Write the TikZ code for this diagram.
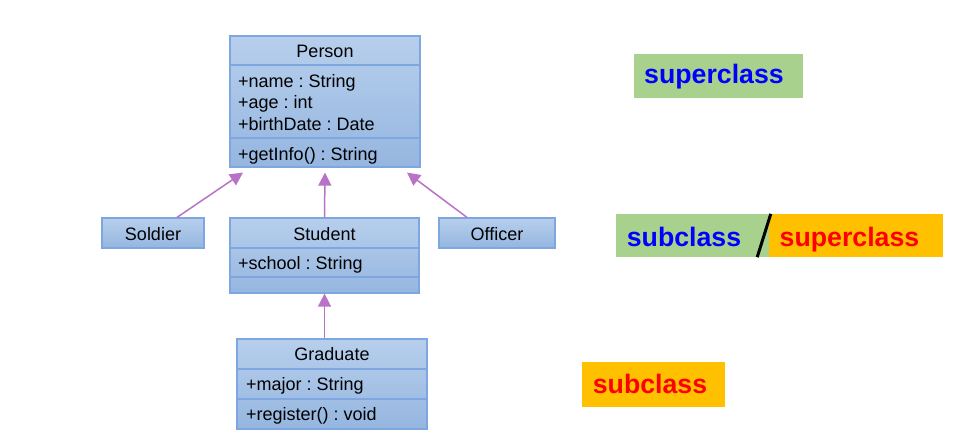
\documentclass[tikz,border=0pt]{standalone}
\usepackage{fontspec}
\setmainfont{Liberation Sans}
\usetikzlibrary{arrows.meta}
\frenchspacing
\definecolor{umlborder}{HTML}{7EA6E0}
\definecolor{umltop}{HTML}{B7CFEC}
\definecolor{umlbot}{HTML}{95B6E0}
\definecolor{arrowcol}{HTML}{B873C8}
\definecolor{tagGreen}{HTML}{A9D18E}
\definecolor{tagOrange}{HTML}{FFC000}
\tikzset{
  umlbox/.style={rectangle, draw=umlborder, line width=1.2pt, top color=umltop, bottom color=umlbot, inner sep=0pt},
  divline/.style={draw=umlborder, line width=1.2pt},
  umltext/.style={inner sep=0pt, font=\fontsize{18}{21}\selectfont\frenchspacing},
  inherit/.style={draw=arrowcol, line width=1.5pt, -{Triangle[length=13pt,width=13pt]}},
  tagtext/.style={inner sep=0pt, font=\fontsize{26.7}{30}\selectfont\bfseries},
  tagbox/.style={rectangle, inner sep=0pt, draw=none}
}
\begin{document}
\begin{tikzpicture}[x=1pt,y=-1pt]
\useasboundingbox[fill=white] (0,0) rectangle (962,441);

% Person
\node[umlbox, minimum width=190pt, minimum height=131pt] (person) at (325,101.5) {};
\draw[divline] (230,65) -- (420,65);
\draw[divline] (230,138) -- (420,138);
\node[umltext, anchor=base] (pname) at (325,57.5) {Person};
\node[umltext, anchor=base west] (pa1) at (238,87.5) {+name : String};
\node[umltext, anchor=base west] (pa2) at (238,109) {+age : int};
\node[umltext, anchor=base west] (pa3) at (238,130.5) {+birthDate : Date};
\node[umltext, anchor=base west] (pm1) at (238,160.5) {+getInfo() : String};

% Soldier
\node[umlbox, minimum width=102pt, minimum height=30pt] (soldier) at (153,233) {};
\node[umltext, anchor=base] (soldiername) at (153,240.5) {Soldier};

% Student
\node[umlbox, minimum width=189pt, minimum height=75pt] (student) at (324.5,255.5) {};
\draw[divline] (230,248) -- (419,248);
\draw[divline] (230,277) -- (419,277);
\node[umltext, anchor=base] (sname) at (324.5,240.5) {Student};
\node[umltext, anchor=base west] (sa1) at (238,269.5) {+school : String};

% Officer
\node[umlbox, minimum width=116pt, minimum height=30pt] (officer) at (497,233) {};
\node[umltext, anchor=base] (officername) at (497,240.5) {Officer};

% Graduate
\node[umlbox, minimum width=190pt, minimum height=90pt] (graduate) at (332,384) {};
\draw[divline] (237,369) -- (427,369);
\draw[divline] (237,399) -- (427,399);
\node[umltext, anchor=base] (gname) at (332,360.5) {Graduate};
\node[umltext, anchor=base west] (ga1) at (246,390.5) {+major : String};
\node[umltext, anchor=base west] (gm1) at (246,420.5) {+register() : void};

% Inheritance arrows
\draw[inherit] ([xshift=24pt]soldier.north) -- ([xshift=-82pt,yshift=-5pt]person.south);
\draw[inherit] ([xshift=-0.5pt]student.north -| person.south) -- ([yshift=-5pt]person.south);
\draw[inherit] ([xshift=-30pt]officer.north) -- ([xshift=82pt,yshift=-5pt]person.south);
\draw[inherit] (graduate.north -| student.south) -- (student.south);

% Tags
\node[tagbox, fill=tagGreen, minimum width=169pt, minimum height=44pt] (tagsuper) at (718.5,76) {};
\node[tagtext, text=blue, anchor=base] (tagsupertext) at (714,84) {superclass};

\node[tagbox, fill=tagGreen, minimum width=153pt, minimum height=43pt] (tagmidsub) at (692.5,235.5) {};
\node[tagbox, fill=tagOrange, minimum width=174pt, minimum height=43pt] (tagmidsuper) at (856,235.5) {};
\draw[black, line width=3pt] (tagmidsuper.north west) ++(2pt,0) coordinate (slashtop) -- ([xshift=-12pt]tagmidsub.south east) coordinate (slashbot);
\node[tagtext, text=blue, anchor=base] (tagmidsubtext) at (684,246.5) {subclass};
\node[tagtext, text=red, anchor=base] (tagmidsupertext) at (849.5,246.5) {superclass};

\node[tagbox, fill=tagOrange, minimum width=143pt, minimum height=45pt] (tagsub) at (653.5,384.5) {};
\node[tagtext, text=red, anchor=base] (tagsubtext) at (650,393.5) {subclass};
\end{tikzpicture}
\end{document}
